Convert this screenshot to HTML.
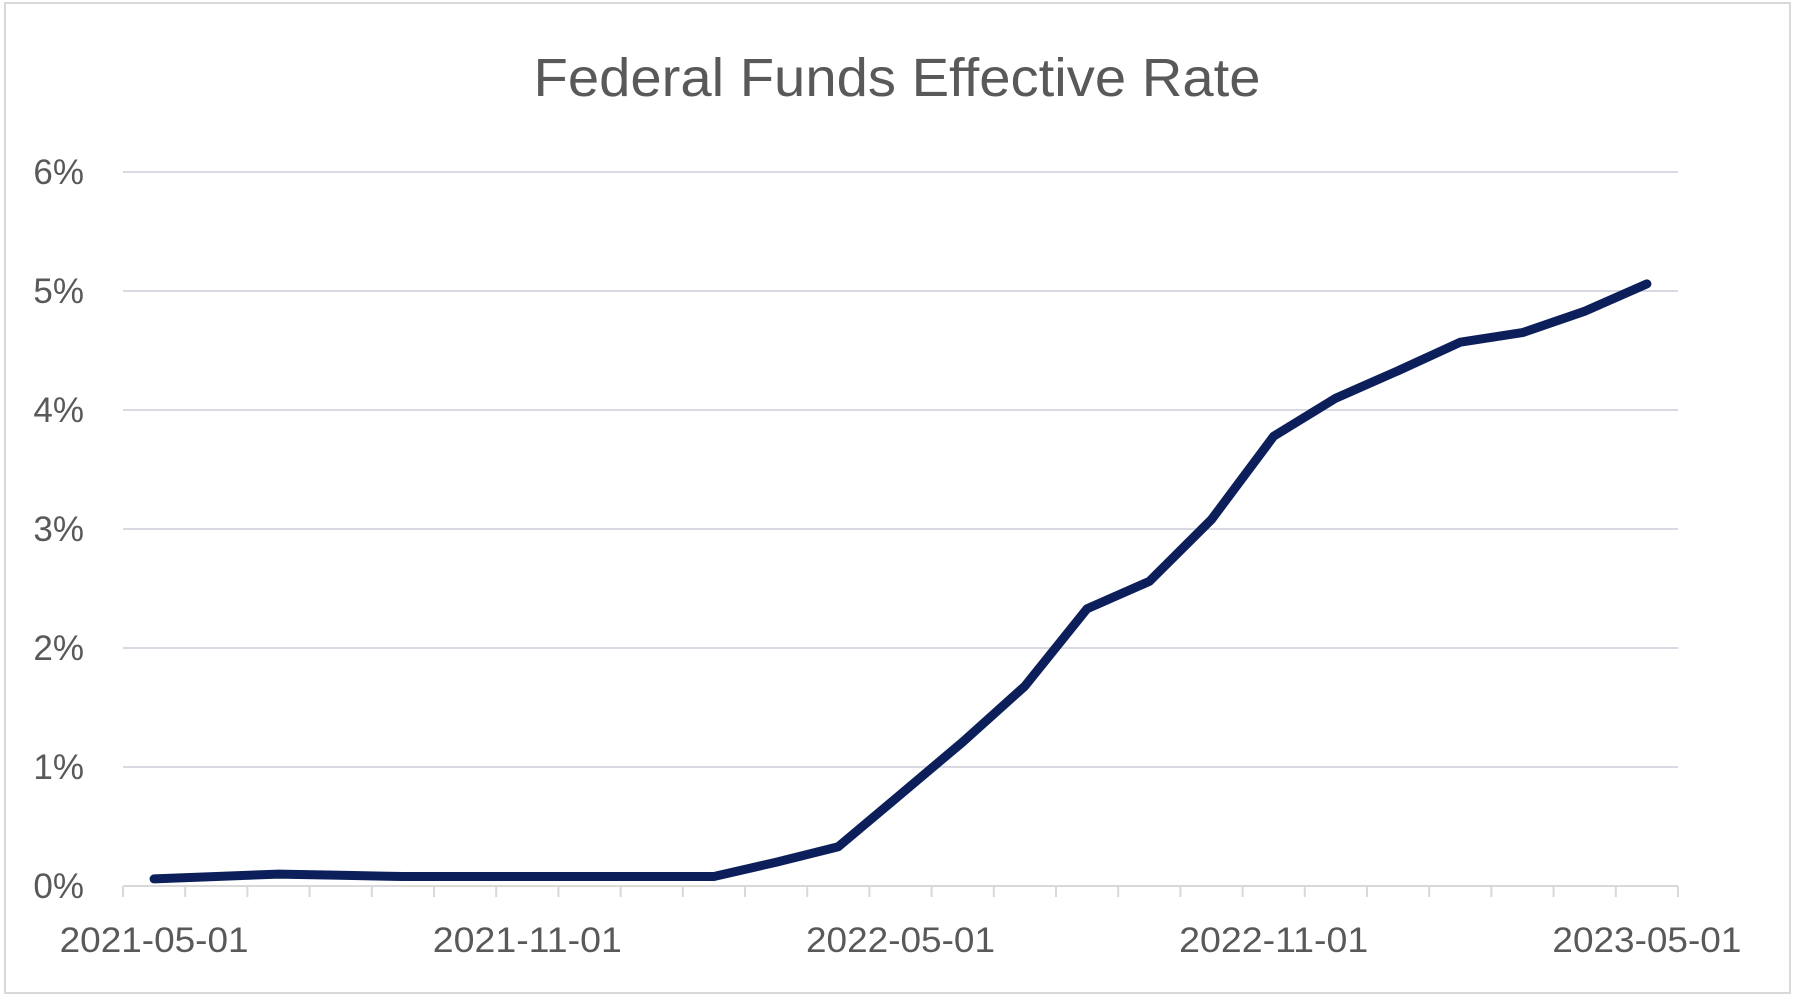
<!DOCTYPE html>
<html><head><meta charset="utf-8"><style>
html,body{margin:0;padding:0;background:#fff;}
svg{display:block;font-family:"Liberation Sans",sans-serif;}
</style></head><body>
<svg id="chart" width="1796" height="999" viewBox="0 0 1796 999" xmlns="http://www.w3.org/2000/svg">
<rect x="5" y="3" width="1785" height="990" fill="#fff" stroke="#d9d9d9" stroke-width="2"/>
<text x="897" y="96" text-anchor="middle" font-size="54" fill="#595959" textLength="727" lengthAdjust="spacingAndGlyphs">Federal Funds Effective Rate</text>
<g id="grid"></g><g id="axis"></g><g id="series"></g>
</svg>
<script>
const categories = ["2021-05-01","2021-06-01","2021-07-01","2021-08-01","2021-09-01","2021-10-01","2021-11-01","2021-12-01","2022-01-01","2022-02-01","2022-03-01","2022-04-01","2022-05-01","2022-06-01","2022-07-01","2022-08-01","2022-09-01","2022-10-01","2022-11-01","2022-12-01","2023-01-01","2023-02-01","2023-03-01","2023-04-01","2023-05-01"];
const rateValues = [0.06,0.08,0.10,0.09,0.08,0.08,0.08,0.08,0.08,0.08,0.20,0.33,0.77,1.21,1.68,2.33,2.56,3.08,3.78,4.10,4.33,4.57,4.65,4.83,5.06];
const yTicks = [0,1,2,3,4,5,6];
const yTickLabels = ["0%","1%","2%","3%","4%","5%","6%"];
const xLabelEvery = 6;

const NS="http://www.w3.org/2000/svg";
const L=123,R=1678,B=886,T=172;
const n=categories.length;
const bw=(R-L)/n;
const xc=i=>L+bw*(i+0.5);
const y=v=>B-(v-0)/(6-0)*(B-T);
function mk(tag,attrs,parent){const e=document.createElementNS(NS,tag);for(const k in attrs)e.setAttribute(k,attrs[k]);parent.appendChild(e);return e;}
const grid=document.getElementById('grid'),axis=document.getElementById('axis'),series=document.getElementById('series');
yTicks.forEach((t,i)=>{
  if(t!==0){const g=mk('line',{x1:L,x2:R,y1:y(t),y2:y(t),stroke:'#d9d9e3','stroke-width':2},grid);
  
  }
  const tx=mk('text',{x:84,y:y(t)+12,'text-anchor':'end','font-size':35,fill:'#595959'},axis);
  tx.textContent=yTickLabels[i];
  
  
});
const ax=mk('line',{x1:L,x2:R,y1:B,y2:B,stroke:'#d9d9d9','stroke-width':2},axis);


for(let i=0;i<=n;i++){
  const tk=mk('line',{x1:L+bw*i,x2:L+bw*i,y1:B,y2:B+11,stroke:'#d9d9d9','stroke-width':2},axis);
  
  
}
categories.forEach((c,i)=>{
  if(i%xLabelEvery!==0)return;
  const tx=mk('text',{x:xc(i),y:952,'text-anchor':'middle','font-size':35,fill:'#595959',textLength:189,lengthAdjust:'spacingAndGlyphs'},axis);
  tx.textContent=c;
  
  
});
const pts=rateValues.map((v,i)=>xc(i).toFixed(1)+','+y(v).toFixed(1)).join(' ');
const line=mk('polyline',{points:pts,fill:'none',stroke:'#0c1f5b','stroke-width':9,'stroke-linejoin':'round','stroke-linecap':'round'},series);


</script>
</body></html>
